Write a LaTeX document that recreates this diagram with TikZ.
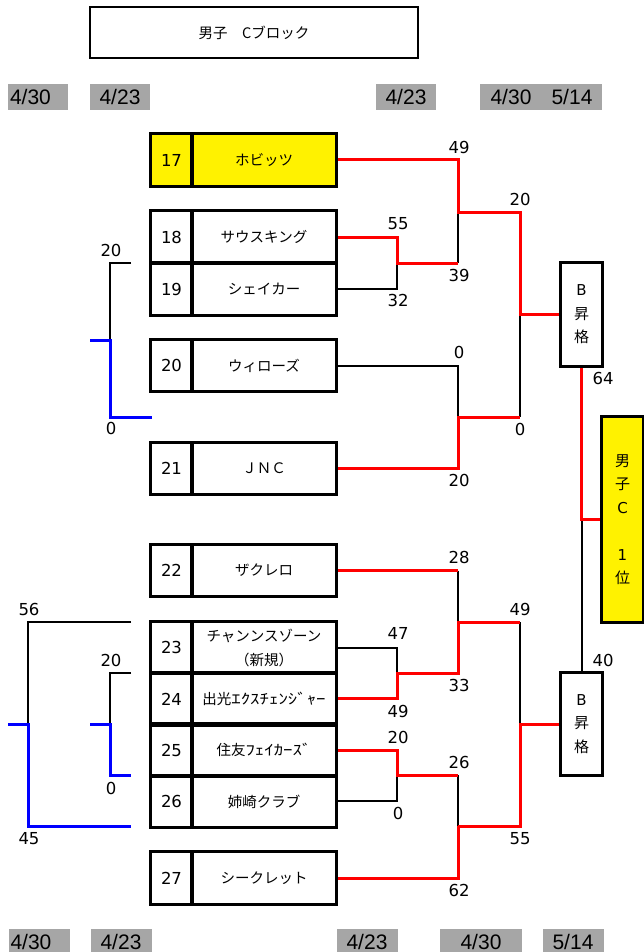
\documentclass[tikz,border=0pt]{standalone}
\usepackage{fontspec}
\usepackage{graphicx}
\setmainfont{DejaVu Sans}
\newfontfamily\jp{Noto Sans CJK JP}
\newfontfamily\dtf{Liberation Sans}
\definecolor{dategray}{RGB}{166,166,166}
\newcommand{\hwk}[1]{\scalebox{1.3}[1]{#1}}
\begin{document}
\begin{tikzpicture}[x=1pt,y=-1pt,
  cell/.style={draw,line width=2pt,inner sep=0pt,minimum height=51.5pt},
  numcell/.style={cell,minimum width=41pt,font=\fontsize{16.5}{20}\selectfont},
  namecell/.style={cell,minimum width=144pt,font=\jp\fontsize{14.5}{24}\selectfont,align=center},
  blk/.style={line width=2pt,draw=black},
  win/.style={line width=3pt,draw=red},
  los/.style={line width=3pt,draw=blue},
  score/.style={font=\fontsize{16.5}{20}\selectfont,inner sep=0pt},
  datebox/.style={fill=dategray,inner sep=0pt,minimum height=26pt},
  datetxt/.style={font=\dtf\fontsize{21}{24}\selectfont,inner sep=0pt},
  bbox/.style={draw,line width=2pt,inner sep=0pt,minimum width=41pt,align=center,font=\fontsize{15}{23.5}\selectfont},
]
\useasboundingbox (0,0) rectangle (643,952);

% title
\node[draw,line width=2pt,minimum width=328pt,minimum height=51pt,inner sep=0pt,font=\jp\fontsize{14.5}{16}\selectfont] (title) at (254,32.5) {男子　Cブロック};

% date boxes top
\node[datebox,minimum width=60pt] (d1) at (38,97) {};
\node[datetxt,anchor=west] (d1t) at ([xshift=2pt]d1.west) {4/30};
\node[datebox,minimum width=60pt,datetxt] (d2) at (120,97) {4/23};
\node[datebox,minimum width=60pt,datetxt] (d3) at (406,97) {4/23};
\node[datebox,minimum width=122pt] (d4) at (541,97) {};
\node[datetxt] (d4a) at (511,97) {4/30};
\node[datetxt] (d4b) at (572,97) {5/14};

% date boxes bottom
\node[datebox,minimum width=61pt] (e1) at (39,942) {};
\node[datetxt,anchor=west] (e1t) at ([xshift=2pt]e1.west) {4/30};
\node[datebox,minimum width=61pt,datetxt] (e2) at (121,942) {4/23};
\node[datebox,minimum width=61pt,datetxt] (e3) at (367,942) {4/23};
\node[datebox,minimum width=82pt,datetxt] (e4) at (481,942) {4/30};
\node[datebox,minimum width=61pt,datetxt] (e5) at (573,942) {5/14};

% coordinates
\coordinate (p2) at (458,212);
\coordinate (p3) at (520,212);
\coordinate (q2) at (397,263);
\coordinate (q3) at (458,263);
\coordinate (r2) at (458,417);
\coordinate (r3) at (520,417);
\coordinate (t2) at (458,622);
\coordinate (t3) at (520,622);
\coordinate (t4) at (520,724);
\coordinate (u2) at (397,673);
\coordinate (u3) at (458,673);
\coordinate (v2) at (397,775);
\coordinate (v3) at (458,775);
\coordinate (v5) at (458,826);
\coordinate (v6) at (520,826);
\coordinate (L1) at (131,263);
\coordinate (L2) at (110,263);
\coordinate (L3) at (110,340);
\coordinate (L4) at (90,340);
\coordinate (L5) at (110,417);
\coordinate (L6) at (152,417);
\coordinate (M1) at (131,622);
\coordinate (M2) at (28,622);
\coordinate (M3) at (28,724);
\coordinate (M4) at (8,724);
\coordinate (M5) at (28,826);
\coordinate (M6) at (131,826);
\coordinate (N1) at (131,673);
\coordinate (N2) at (110,673);
\coordinate (N3) at (110,724);
\coordinate (N4) at (90,724);
\coordinate (N5) at (110,775);
\coordinate (N6) at (131,775);

% team boxes
\node[numcell,fill=yellow] (k17) at (171.5,160) {17};
\node[namecell,fill=yellow] (n17) at (264,160) {ホビッツ};
\node[numcell] (k18) at (171.5,237) {18};
\node[namecell] (n18) at (264,237) {サウスキング};
\node[numcell] (k19) at (171.5,289) {19};
\node[namecell] (n19) at (264,289) {シェイカー};
\node[numcell] (k20) at (171.5,365.5) {20};
\node[namecell] (n20) at (264,365.5) {ウィローズ};
\node[numcell] (k21) at (171.5,468.5) {21};
\node[namecell] (n21) at (264,468.5) {ＪＮＣ};
\node[numcell] (k22) at (171.5,570.5) {22};
\node[namecell] (n22) at (264,570.5) {ザクレロ};
\node[numcell] (k23) at (171.5,647.6) {23};
\node[namecell] (n23) at (264,647.6) {チャンンスゾーン\\（新規）};
\node[numcell] (k24) at (171.5,698.9) {24};
\node[namecell] (n24) at (264,698.9) {出光\hwk{ｴｸｽﾁｪﾝｼﾞｬｰ}};
\node[numcell] (k25) at (171.5,750.1) {25};
\node[namecell] (n25) at (264,750.1) {住友\hwk{ﾌｪｲｶｰｽﾞ}};
\node[numcell] (k26) at (171.5,801.4) {26};
\node[namecell] (n26) at (264,801.4) {姉崎クラブ};
\node[numcell] (k27) at (171.5,878) {27};
\node[namecell] (n27) at (264,878) {シークレット};

% B promotion boxes and winner
\node[bbox,minimum height=103pt] (bu) at (581.5,314.5) {B\\{\jp 昇}\\{\jp 格}};
\node[bbox,minimum height=102pt] (bl) at (581.5,724) {B\\{\jp 昇}\\{\jp 格}};
\node[bbox,fill=yellow,minimum height=205pt] (w) at (622.5,519.5) {{\jp 男}\\{\jp 子}\\C\\[23.5pt]1\\{\jp 位}};

% black lines
\draw[blk] (n19.east) -| (q2);
\draw[blk] (p2) -- (q3);
\draw[blk] (n20.east) -| (r2);
\draw[blk] (p3) -- (r3);
\draw[blk] (bu.south |- w.west) -- (bl.north);
\draw[blk] (n22.east -| t2) -- (t2);
\draw[blk] (n23.east) -| (u2);
\draw[blk] (t3) -- (t4);
\draw[blk] (n26.east) -| (v2);
\draw[blk] (v3) -- (v5);
\draw[blk] (L1) -- (L2) -- (L3);
\draw[blk] (M1) -- (M2) -- (M3);
\draw[blk] (N1) -- (N2) -- (N3);

% red lines
\draw[win] (n17.east) -| (p2) -- (p3) |- (bu.west);
\draw[win] (n18.east) -| (q2) -- (q3);
\draw[win] (n21.east) -| (r2) -- (r3);
\draw[win] (bu.south) |- (w.west);
\draw[win] (n22.east) -- (n22.east -| t2);
\draw[win] (n24.east) -| (u2) -- (u3) -- (t2) -- (t3);
\draw[win] (bl.west) -| (v6) -- (v5);
\draw[win] (n25.east) -| (v2) -- (v3);
\draw[win] (n27.east) -| (v5);

% blue lines
\draw[los] (L4) -- (L3) -- (L5) -- (L6);
\draw[los] (M4) -- (M3) -- (M5) -- (M6);
\draw[los] (N4) -- (N3) -- (N5) -- (N6);

% redraw box borders on top
\foreach \b in {k17,n17,k18,n18,k19,n19,k20,n20,k21,n21,k22,n22,k23,n23,k24,n24,k25,n25,k26,n26,k27,n27,bu,bl,w}
  \draw[line width=2pt] (\b.north west) rectangle (\b.south east);

% scores
\node[score] (s1) at (459,147) {49};
\node[score] (s2) at (398,224) {55};
\node[score] (s3) at (398,300) {32};
\node[score] (s4) at (459,275) {39};
\node[score] (s5) at (520,199) {20};
\node[score] (s6) at (459,352) {0};
\node[score] (s7) at (520,429) {0};
\node[score] (s8) at (459,480) {20};
\node[score] (s9) at (603,378) {64};
\node[score] (s10) at (603,660) {40};
\node[score] (s11) at (459,557) {28};
\node[score] (s12) at (398,633) {47};
\node[score] (s13) at (398,711) {49};
\node[score] (s14) at (459,685) {33};
\node[score] (s15) at (520,609) {49};
\node[score] (s16) at (520,839) {55};
\node[score] (s17) at (398,737) {20};
\node[score] (s18) at (398,813) {0};
\node[score] (s19) at (459,762) {26};
\node[score] (s20) at (459,890) {62};
\node[score] (s21) at (111,250) {20};
\node[score] (s22) at (111,428) {0};
\node[score] (s23) at (29,609) {56};
\node[score] (s24) at (29,839) {45};
\node[score] (s25) at (111,660) {20};
\node[score] (s26) at (111,788) {0};
\end{tikzpicture}
\end{document}
